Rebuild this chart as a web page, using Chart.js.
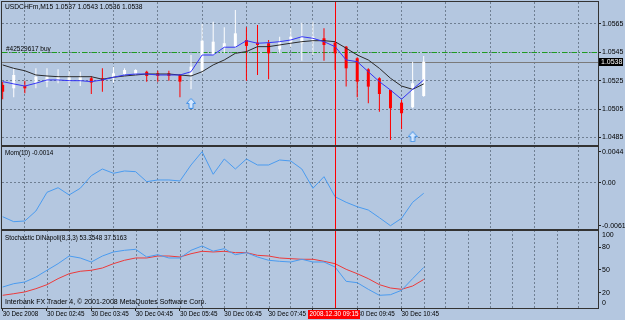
<!DOCTYPE html>
<html><head><meta charset="utf-8">
<script src="https://cdn.jsdelivr.net/npm/chart.js@4.4.0/dist/chart.umd.min.js"></script>
<style>
html,body{margin:0;padding:0;background:#B4C7E0;}
#wrap{position:relative;width:625px;height:320px;overflow:hidden;}
canvas{display:block;}
</style></head>
<body><div id="wrap"><canvas id="c" width="625" height="320"></canvas></div>
<script>
// ---------------- data ----------------
const titleText = "USDCHFm,M15 1.0537 1.0543 1.0536 1.0538";
const momTitle = "Mom(10) -0.0014";
const stochTitle = "Stochastic DiNapoli(8,3,3) 53.3548 37.5163";
const copyrightText = "Interbank FX Trader 4, \u00A9 2001-2008 MetaQuotes Software Corp.";
const orderLabel = "#42529617 buy";
const bidPrice = 1.0538;
const orderPrice = 1.0545;
const cursorBar = 30;
const cursorLabel = "2008.12.30 09:15";

const opens  = [1.05220,1.05196,1.05212,1.05232,1.05243,1.05250,1.05243,1.05250,1.05267,1.05267,1.05267,1.05297,1.05297,1.05313,1.05302,1.05302,1.05290,1.05290,1.05320,1.05431,1.05479,1.05490,1.05537,1.05518,1.05514,1.05471,1.05514,1.05514,1.05525,1.05549,1.05518,1.05490,1.05408,1.05330,1.05267,1.05184,1.05095,1.05062,1.05142];
const highs  = [1.05243,1.05337,1.05250,1.05337,1.05337,1.05330,1.05320,1.05313,1.05283,1.05337,1.05349,1.05337,1.05330,1.05320,1.05320,1.05320,1.05297,1.05431,1.05650,1.05666,1.05627,1.05749,1.05627,1.05643,1.05537,1.05560,1.05620,1.05659,1.05666,1.05620,1.05525,1.05495,1.05415,1.05337,1.05274,1.05184,1.05114,1.05384,1.05424];
const lows   = [1.05119,1.05133,1.05161,1.05196,1.05203,1.05232,1.05212,1.05212,1.05156,1.05172,1.05236,1.05290,1.05290,1.05243,1.05243,1.05250,1.05133,1.05189,1.05302,1.05431,1.05443,1.05479,1.05250,1.05290,1.05260,1.05443,1.05486,1.05391,1.05431,1.05391,1.05325,1.05208,1.05133,1.05090,1.05031,1.04831,1.04907,1.05055,1.05137];
const closes = [1.05172,1.05290,1.05196,1.05278,1.05278,1.05278,1.05278,1.05278,1.05236,1.05250,1.05302,1.05325,1.05325,1.05283,1.05283,1.05283,1.05243,1.05349,1.05532,1.05525,1.05514,1.05584,1.05495,1.05502,1.05443,1.05525,1.05560,1.05560,1.05560,1.05502,1.05443,1.05337,1.05243,1.05208,1.05156,1.05055,1.05020,1.05232,1.05384];

const maFast = [1.05243,1.05227,1.05212,1.05232,1.05255,1.05255,1.05250,1.05250,1.05243,1.05255,1.05274,1.05290,1.05297,1.05297,1.05290,1.05290,1.05290,1.05313,1.05431,1.05431,1.05486,1.05486,1.05532,1.05514,1.05518,1.05525,1.05537,1.05560,1.05549,1.05525,1.05490,1.05396,1.05384,1.05313,1.05243,1.05184,1.05119,1.05189,1.05255];
const maSlow = [1.05361,1.05337,1.05320,1.05290,1.05283,1.05278,1.05278,1.05278,1.05278,1.05260,1.05274,1.05283,1.05290,1.05297,1.05297,1.05297,1.05290,1.05283,1.05313,1.05361,1.05396,1.05443,1.05455,1.05490,1.05490,1.05502,1.05514,1.05525,1.05532,1.05532,1.05525,1.05479,1.05431,1.05396,1.05337,1.05267,1.05212,1.05189,1.05227];

const momentum = [-0.00481,-0.00552,-0.00542,-0.00400,-0.00134,-0.00069,-0.00172,-0.00077,0.00102,0.00197,0.00136,0.00169,0.00159,0.00017,0.00041,0.00041,0.00027,0.00254,0.00443,0.00122,0.00339,0.00197,0.00339,0.00254,0.00254,0.00325,0.00311,0.00197,-0.00077,0.00088,-0.00197,-0.00276,-0.00339,-0.00386,-0.00495,-0.00609,-0.00504,-0.00276,-0.00148];

const stochMain   = [27.6,32.0,34.2,40.8,49.6,58.3,68.4,65.8,60.5,68.4,73.7,75.9,77.2,67.1,70.1,65.8,65.8,75.9,81.6,74.8,78.0,70.1,72.8,67.1,62.8,61.4,60.5,64.1,60.5,60.5,53.9,35.1,33.3,24.6,16.7,17.5,23.3,38.6,53.4];
const stochSignal = [16.7,18.8,21.1,25.4,30.7,38.6,45.1,48.3,49.6,52.6,58.3,62.8,65.8,65.8,68.4,68.4,67.1,71.4,74.6,73.7,74.6,72.8,72.8,69.3,68.4,65.8,64.9,64.1,64.1,61.4,58.3,50.9,45.1,38.6,30.7,26.3,24.6,28.9,37.5];

const arrowBars = [17, 37];
const arrowPrices = [1.05090, 1.04855];

const priceTicks = [1.0565, 1.0545, 1.0525, 1.0505, 1.0485];
const momTicks = [0.0044, 0, -0.0061];
const stochTicks = [80, 50, 20];
const stochEdgeLabels = ["100", "0"];
const timeLabelBars = [0,4,8,12,16,20,24,28,32,36];
const timeLabels = ["30 Dec 2008","30 Dec 02:45","30 Dec 03:45","30 Dec 04:45","30 Dec 05:45","30 Dec 06:45","30 Dec 07:45","30 Dec 08:45","30 Dec 09:45","30 Dec 10:45"];
const gridBars = [2,6,10,14,18,22,26,28,32,36,40,44,48,52];
const stochGridBars = [4,8,12,16,20,24,30,34,38,42,46,50];

// ---------------- styling ----------------
const FONT = "'Liberation Sans', Arial, sans-serif";
const GRID = '#6f7f92';
const FRAME = '#333333';
const bars = opens.map((_, i) => i);
const isBull = bars.map(i => closes[i] >= opens[i]);
const candleColor = bars.map(i => isBull[i] ? '#ffffff' : '#ff0000');

const arrowImg = document.createElement('canvas');
arrowImg.width = 10; arrowImg.height = 11;
(function(){
  const c = arrowImg.getContext('2d');
  c.beginPath();
  c.moveTo(5, 0.5); c.lineTo(9.5, 5.5); c.lineTo(7, 5.5); c.lineTo(7, 10.5);
  c.lineTo(3, 10.5); c.lineTo(3, 5.5); c.lineTo(0.5, 5.5); c.closePath();
  c.fillStyle = '#d6e8ff'; c.fill();
  c.strokeStyle = '#3d8fe8'; c.lineWidth = 1; c.stroke();
})();

Chart.defaults.font.family = FONT;
Chart.defaults.font.size = 7;
Chart.defaults.color = '#000';

const X_MIN = -0.06, X_MAX = 53.73;

const deco = {
  id: 'deco',
  beforeDatasetsDraw(chart) {
    const {ctx, scales} = chart;
    const {x, yMain, yStoch} = scales;
    const L = chart.chartArea.left, R = chart.chartArea.right;
    ctx.save();
    ctx.lineWidth = 1;
    ctx.strokeStyle = GRID;
    ctx.setLineDash([2, 2]);
    stochGridBars.forEach(b => {
      const px = Math.round(x.getPixelForValue(b)) + 0.5;
      ctx.beginPath(); ctx.moveTo(px, yStoch.top); ctx.lineTo(px, yStoch.bottom); ctx.stroke();
    });
    ctx.setLineDash([]);
    ctx.strokeStyle = '#7a7a7a';
    let py = Math.round(yMain.getPixelForValue(bidPrice)) + 0.5;
    ctx.beginPath(); ctx.moveTo(L, py); ctx.lineTo(R, py); ctx.stroke();
    ctx.setLineDash([5, 2, 1, 2]);
    ctx.strokeStyle = '#1e9e1e';
    py = Math.round(yMain.getPixelForValue(orderPrice)) + 0.5;
    ctx.beginPath(); ctx.moveTo(L, py); ctx.lineTo(R, py); ctx.stroke();
    ctx.restore();
  },
  afterDraw(chart) {
    const {ctx, scales: {x, yMain, yMom, yStoch}} = chart;
    const ca = chart.chartArea;
    ctx.save();
    const cx = Math.round(x.getPixelForValue(cursorBar));
    ctx.fillStyle = '#ff0000';
    ctx.fillRect(cx, ca.top, 1, ca.bottom - ca.top);
    ctx.strokeStyle = FRAME; ctx.lineWidth = 1;
    ctx.strokeRect(ca.left - 0.5, ca.top - 0.5, ca.right - ca.left + 1, ca.bottom - ca.top + 1);
    ctx.lineWidth = 2;
    [yMain.bottom, yMom.bottom].forEach(b => {
      ctx.beginPath(); ctx.moveTo(ca.left - 1, b); ctx.lineTo(ca.right + 1, b); ctx.stroke();
    });
    ctx.fillStyle = '#000';
    ctx.textBaseline = 'middle';
    ctx.textAlign = 'left';
    ctx.font = '6.7px ' + FONT;
    ctx.fillText(titleText, 5, yMain.top + 5);
    ctx.font = '6.5px ' + FONT;
    ctx.fillText(orderLabel, 6, yMain.getPixelForValue(orderPrice) - 3);
    ctx.font = '6.3px ' + FONT;
    ctx.fillText(momTitle, 5, yMom.top + 7);
    ctx.fillText(stochTitle, 5, yStoch.top + 8);
    ctx.font = '7px ' + FONT;
    ctx.fillText(copyrightText, 5, yStoch.bottom - 6);
    ctx.fillText(stochEdgeLabels[0], ca.right + 4, yStoch.top + 5.5);
    ctx.fillText(stochEdgeLabels[1], ca.right + 4, yStoch.bottom - 4.5);
    const by = yMain.getPixelForValue(bidPrice);
    ctx.fillStyle = '#000';
    ctx.fillRect(ca.right + 1, Math.round(by) - 4, 24, 8);
    ctx.fillStyle = '#fff';
    ctx.fillText(bidPrice.toFixed(4), ca.right + 3, by);
    ctx.fillStyle = '#ff0000';
    ctx.fillRect(cx - 27, ca.bottom + 2, 52, 9);
    ctx.fillStyle = '#fff';
    ctx.textAlign = 'center';
    ctx.font = '6.3px ' + FONT;
    ctx.fillText(cursorLabel, cx - 1, ca.bottom + 6.5);
    ctx.restore();
  }
};

const yCommon = (ticksArr, fmt) => ({
  type: 'linear',
  position: 'right',
  stack: 'panes',
  stacked: false,
  afterBuildTicks: s => { s.ticks = ticksArr.map(v => ({value: v})); },
  afterFit: s => { s.width = 27; s.paddingTop = 0; s.paddingBottom = 0; },
  ticks: { autoSkip: false, padding: 1, color: '#000', font: {size: 7, family: FONT}, callback: fmt },
  border: { display: false, dash: [2, 2] },
  grid: { color: GRID, drawTicks: true, tickLength: 3, tickColor: '#222', tickBorderDash: [], lineWidth: 1 }
});

const yMainOpts = yCommon(priceTicks, v => v.toFixed(4));
yMainOpts.stackWeight = 144; yMainOpts.min = 1.04789; yMainOpts.max = 1.05805;
const yMomOpts = yCommon(momTicks, v => v === 0 ? '0.00' : v.toFixed(4));
yMomOpts.stackWeight = 84; yMomOpts.min = -0.0067; yMomOpts.max = 0.00524;
yMomOpts.grid.color = ctx => (ctx.tick && ctx.tick.value === 0) ? GRID : 'rgba(0,0,0,0)';
const yStochOpts = yCommon(stochTicks, v => String(v));
yStochOpts.stackWeight = 78; yStochOpts.min = 0; yStochOpts.max = 102.6;
yStochOpts.grid.drawOnChartArea = false;

const lineDs = (data, axis, color, order) => ({
  type: 'line',
  data: bars.map(i => ({x: i, y: data[i]})),
  yAxisID: axis, xAxisID: 'x',
  borderColor: color, borderWidth: 1, pointRadius: 0, tension: 0, fill: false, order
});

new Chart(document.getElementById('c'), {
  type: 'bar',
  data: {
    datasets: [
      {
        type: 'bar',
        data: bars.map(i => ({x: i, y: [lows[i], highs[i]]})),
        backgroundColor: candleColor, borderWidth: 0,
        grouped: false, maxBarThickness: 1, yAxisID: 'yMain', xAxisID: 'x', order: 5
      },
      {
        type: 'bar',
        data: bars.map(i => ({x: i, y: [opens[i], closes[i]]})),
        backgroundColor: candleColor, borderWidth: 0, minBarLength: 1,
        grouped: false, maxBarThickness: 3, yAxisID: 'yMain', xAxisID: 'x', order: 4
      },
      lineDs(maSlow, 'yMain', '#2a2a2a', 2),
      lineDs(maFast, 'yMain', '#3535f5', 1),
      {
        type: 'line', showLine: false,
        data: arrowBars.map((b, k) => ({x: b, y: arrowPrices[k]})),
        pointStyle: arrowImg, pointRadius: 5, yAxisID: 'yMain', xAxisID: 'x', order: 0
      },
      lineDs(momentum, 'yMom', '#4a9bef', 1),
      lineDs(stochSignal, 'yStoch', '#ec3a3a', 2),
      lineDs(stochMain, 'yStoch', '#4a9bef', 1)
    ]
  },
  options: {
    responsive: false, maintainAspectRatio: false, animation: false, events: [],
    layout: { autoPadding: false, padding: { left: 2, top: 2, right: 0, bottom: 0 } },
    plugins: { legend: { display: false }, tooltip: { enabled: false } },
    scales: {
      x: {
        type: 'linear', position: 'bottom', min: X_MIN, max: X_MAX, offset: false,
        afterBuildTicks: s => { s.ticks = timeLabelBars.map(v => ({value: v})); },
        afterFit: s => { s.height = 12; s.paddingLeft = 0; s.paddingRight = 0; },
        ticks: { autoSkip: false, maxRotation: 0, align: 'start', labelOffset: 0, padding: -1,
          color: '#000', font: {size: 6.3, family: FONT}, callback: (v, i) => timeLabels[i] },
        grid: { display: true, offset: false, drawOnChartArea: false, drawTicks: true, tickLength: 3, tickColor: '#222' },
        border: { display: false }
      },
      xg: {
        type: 'linear', position: 'top', min: X_MIN, max: X_MAX, offset: false,
        afterBuildTicks: s => { s.ticks = gridBars.map(v => ({value: v})); },
        afterFit: s => { s.height = 0; s.paddingLeft = 0; s.paddingRight = 0; },
        ticks: { display: false },
        grid: { display: true, offset: false, drawOnChartArea: true, drawTicks: false, color: GRID },
        border: { display: false, dash: [2, 2] }
      },
      yMain: yMainOpts,
      yMom: yMomOpts,
      yStoch: yStochOpts
    }
  },
  plugins: [deco]
});
</script>
</body></html>
